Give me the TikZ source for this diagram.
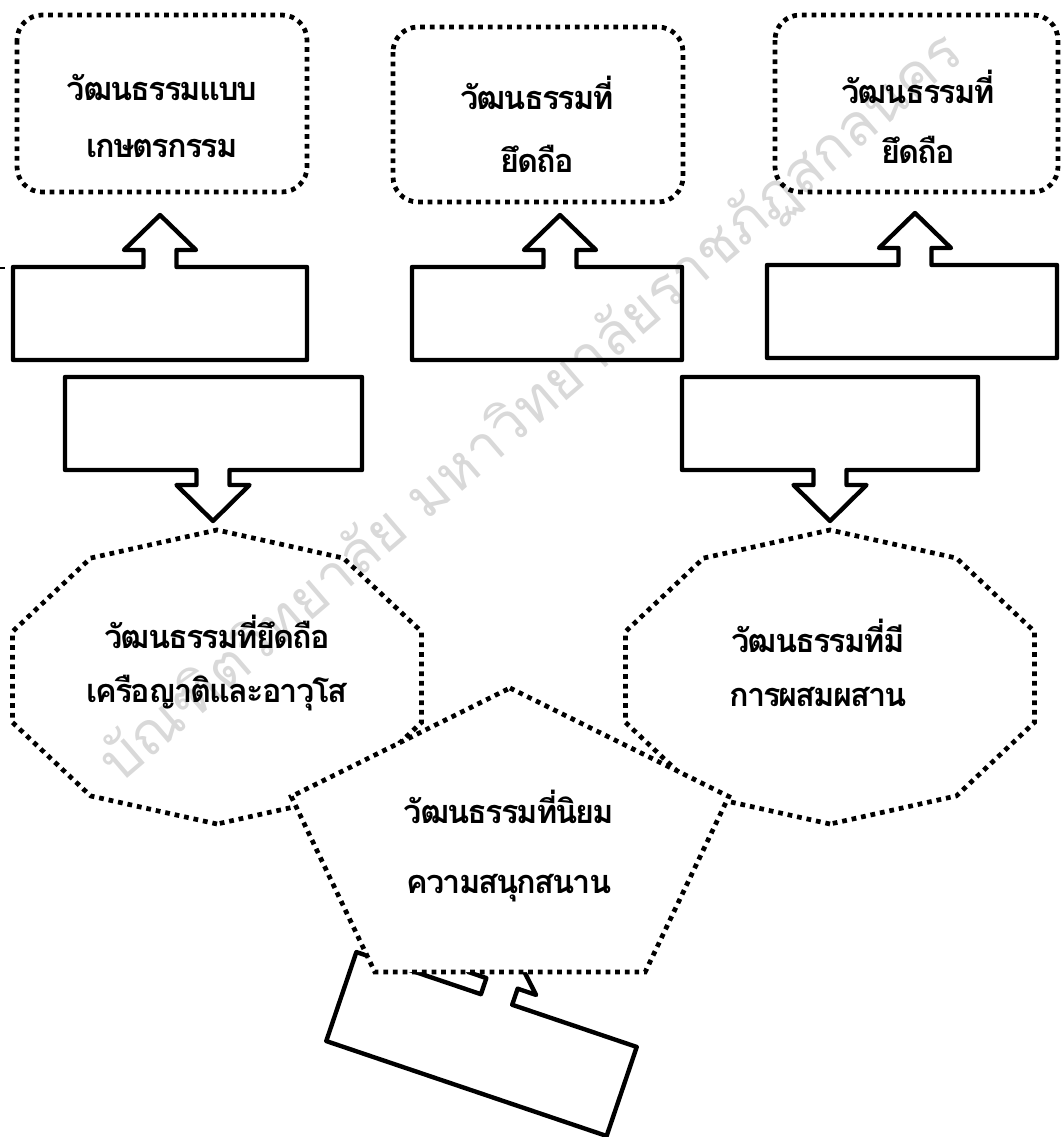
\documentclass[tikz,border=0pt]{standalone}
\usepackage{fontspec}
\newfontfamily\thaifont[Script=Thai]{Loma}
\newfontfamily\thaitight[Script=Thai, LetterSpace=-6]{Loma}
\usetikzlibrary{calc}

\tikzset{
  dotline/.style={line width=2.7pt, dash pattern=on 2.7pt off 2.8pt},
  boxline/.style={line width=2.5pt, line join=round},
  lbl/.style={font=\thaitight\bfseries\fontsize{18.5}{32}\selectfont, align=center},
  wmark/.style={font=\thaifont\fontsize{33}{40}\selectfont, text=gray!30},
}

\begin{document}
\begin{tikzpicture}[x=0.02cm,y=-0.02cm]
    \useasboundingbox (0,0) rectangle (1062,1137);

    \node[wmark, rotate=40.7] (wm) at (532,408) {บัณฑิตวิทยาลัย มหาวิทยาลัยราชภัฏสกลนคร};

    % decagons
    \foreach \cx in {217,830}
        \draw[dotline, shift={(\cx,677)}, xscale=215, yscale=147]
            (90:1) \foreach \a in {126,162,...,414} { -- (\a:1) } -- cycle;

    % top boxes
    \foreach \xa/\ya/\xb/\yb in {17/15/307/192, 393/27/683/202, 775/15/1058/192}
        \draw[dotline, rounded corners=0.5cm] (\xa,\ya) rectangle (\xb,\yb);

    % boxes with arrows up
    \foreach \xa/\xb/\cx/\yt in {13/307/160/267, 412/682/560/267, 767/1057/915/265}
        \draw[boxline] (\xa,\yt) -- ({\cx-16.5},\yt) -- ++(0,-17) -- ++(-19.5,0)
            -- (\cx,{\yt-52}) -- ({\cx+36},{\yt-17}) -- ++(-19.5,0) -- ++(0,17)
            -- (\xb,\yt) -- (\xb,{\yt+93}) -- (\xa,{\yt+93}) -- cycle;
    \draw[line width=1pt] (0,268) -- (5,268);

    % boxes with arrows down
    \foreach \xa/\xb/\cx in {65/362/213, 682/978/830}
        \draw[boxline] (\xa,377) -- (\xb,377) -- (\xb,470) -- ({\cx+16.5},470)
            -- ++(0,15) -- ++(20,0) -- (\cx,521) -- ({\cx-36.5},485) -- ++(20,0)
            -- ++(0,-15) -- (\xa,470) -- cycle;

    % tilted box
    \begin{scope}[shift={(481.5,1044)}, rotate=-18.7]
        \draw[boxline] (-148,-47) -- (-16.5,-47) -- (-16.5,-64) -- (-36,-64) -- (0,-99)
            -- (36,-64) -- (16.5,-64) -- (16.5,-47) -- (148,-47) -- (148,47)
            -- (-148,47) -- cycle;
    \end{scope}

    % pentagon
    \draw[dotline, fill=white, shift={(510,845)}, xscale=230, yscale=157]
        (270:1) \foreach \a in {342,414,486,558} { -- (\a:1) } -- cycle;

    \node[lbl] (agri) at (162,116) {วัฒนธรรมแบบ\\เกษตรกรรม};
    \node[lbl] (belief) at (537,124) {วัฒนธรรมที่\\[4pt]ยึดถือ};
    \node[lbl] (beliefb) at (918,117) {วัฒนธรรมที่\\[2pt]ยึดถือ};
    \node[lbl] (kin) at (217,663) {วัฒนธรรมที่ยึดถือ\\[-1pt]เครือญาติและอาวุโส};
    \node[lbl] (mixed) at (818,663) {วัฒนธรรมที่มี\\[-1pt]การผสมผสาน};
    \node[lbl] (fun) at (509,846) {วัฒนธรรมที่นิยม\\[8pt]ความสนุกสนาน};
\end{tikzpicture}
\end{document}
